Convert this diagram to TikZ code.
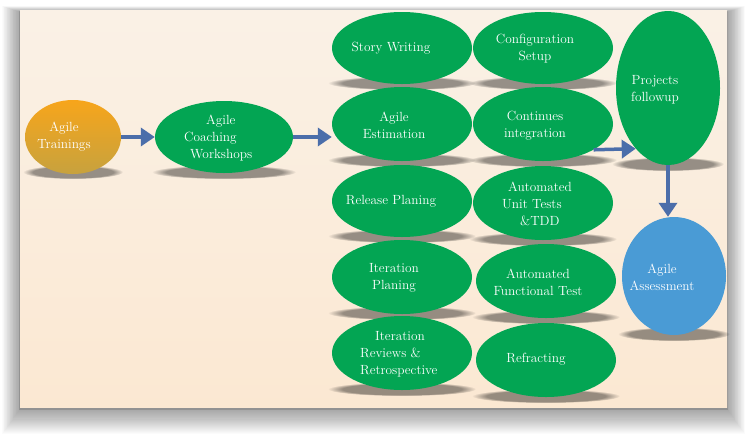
\documentclass[tikz,border=0pt]{standalone}
\usetikzlibrary{shapes.geometric,arrows.meta,fadings}
\definecolor{agreen}{HTML}{03A553}
\definecolor{aorangeT}{HTML}{F7A51B}
\definecolor{aorangeB}{HTML}{C7A23E}
\definecolor{ablue}{HTML}{4A9BD5}
\definecolor{arrowblue}{HTML}{4B6EAA}
\definecolor{slideT}{HTML}{FAF1E6}
\definecolor{slideB}{HTML}{FBE8D2}
\tikzset{
  ell/.style={ellipse,inner sep=0pt,draw=none},
  gell/.style={ell,fill=agreen},
  lbl/.style={text=white,font=\fontsize{13.3}{17}\selectfont,inner sep=0pt},
  flow/.style={draw=arrowblue,line width=3.5pt,-{Triangle[length=14pt,width=18pt]}},
  groundshadow/.style={fill=black,opacity=.4,path fading=circle with fuzzy edge 20 percent}
}
\begin{document}
\begin{tikzpicture}[x=1pt,y=-1pt]
\useasboundingbox (0,0) rectangle (747,437);
\fill[white] (0,0) rectangle (747,437);
% slide shadow
\foreach \i in {1,...,24}{
  \fill[black,opacity=.016] (20-0.75*\i,12-0.25*\i) rectangle (727+0.75*\i,409+1.05*\i);
}
\fill[black,opacity=.12] (19,11) rectangle (728,410);
% slide
\path[top color=slideT,bottom color=slideB] (20,10) rectangle (727,407);
% ground shadows
\foreach \cx/\by/\rx in {73/172/50, 224/172/72, 402/83/74, 543/83/74, 402/160/74, 543/160/74,
  402/236/74, 543/239/74, 402/313/74, 546/317/74, 402/389/74, 546/396/74, 668/164/56, 674/334/56}{
  \path[groundshadow] (\cx,\by) ellipse [x radius=\rx, y radius=7];
}
% ellipses
\node[ell,top color=aorangeT,bottom color=aorangeB,minimum width=96pt,minimum height=74pt] (tr) at (73,137) {};
\node[gell,minimum width=138pt,minimum height=72pt] (co) at (224,137) {};
\node[gell,minimum width=140pt,minimum height=72pt] (sw) at (402,48) {};
\node[gell,minimum width=140pt,minimum height=72pt] (cs) at (543,48) {};
\node[gell,minimum width=140pt,minimum height=74pt] (ae) at (402,124) {};
\node[gell,minimum width=140pt,minimum height=74pt] (ci) at (543,124) {};
\node[gell,minimum width=140pt,minimum height=72pt] (rp) at (402,201) {};
\node[gell,minimum width=140pt,minimum height=74pt] (au) at (543,203) {};
\node[gell,minimum width=140pt,minimum height=74pt] (ip) at (402,277) {};
\node[gell,minimum width=140pt,minimum height=74pt] (af) at (546,281) {};
\node[gell,minimum width=140pt,minimum height=74pt] (ir) at (402,353) {};
\node[gell,minimum width=140pt,minimum height=74pt] (rf) at (546,360) {};
\node[gell,minimum width=104pt,minimum height=154pt] (pf) at (668,88) {};
\node[ell,fill=ablue,minimum width=104pt,minimum height=118pt] (aa) at (674,276) {};
% labels
\node[lbl,align=center] (ttr) at (64,137) {Agile\\Trainings};
\node[lbl,align=left,anchor=west] (tco) at (184,138) {\hspace*{22pt}Agile\\Coaching\\\hspace*{6pt}Workshops};
\node[lbl] (tsw) at (391,48) {Story Writing};
\node[lbl,align=center] (tcs) at (535,49) {Configuration\\Setup};
\node[lbl,align=center] (tae) at (394,125) {Agile\\Estimation};
\node[lbl,align=center] (tci) at (535,126) {Continues\\integration};
\node[lbl] (trp) at (391,201) {Release Planing};
\node[lbl,align=left,anchor=west] (tau) at (502,204) {\hspace*{6pt}Automated\\Unit Tests\\\hspace*{18pt}\&TDD};
\node[lbl,align=center] (tip) at (394,278) {Iteration\\Planing};
\node[lbl,align=center] (taf) at (538,282) {Automated\\Functional Test};
\node[lbl,align=left,anchor=west] (tir) at (360,354) {\hspace*{15pt}Iteration\\Reviews \&\\Retrospective};
\node[lbl] (trf) at (536,359) {Refracting};
\node[lbl,align=center] (tpf) at (655,90) {Projects\\followup};
\node[lbl,align=center] (taa) at (662,277) {Agile\\Assessment};
% connectors
\draw[flow] (tr.east) -- (co.west);
\draw[flow] (co.east) -- (co.east -| ae.west);
\draw[flow] (ci.-27) -- (pf.-118);
\draw[flow] (pf.south) -- (pf.south |- aa.north);
\end{tikzpicture}
\end{document}
